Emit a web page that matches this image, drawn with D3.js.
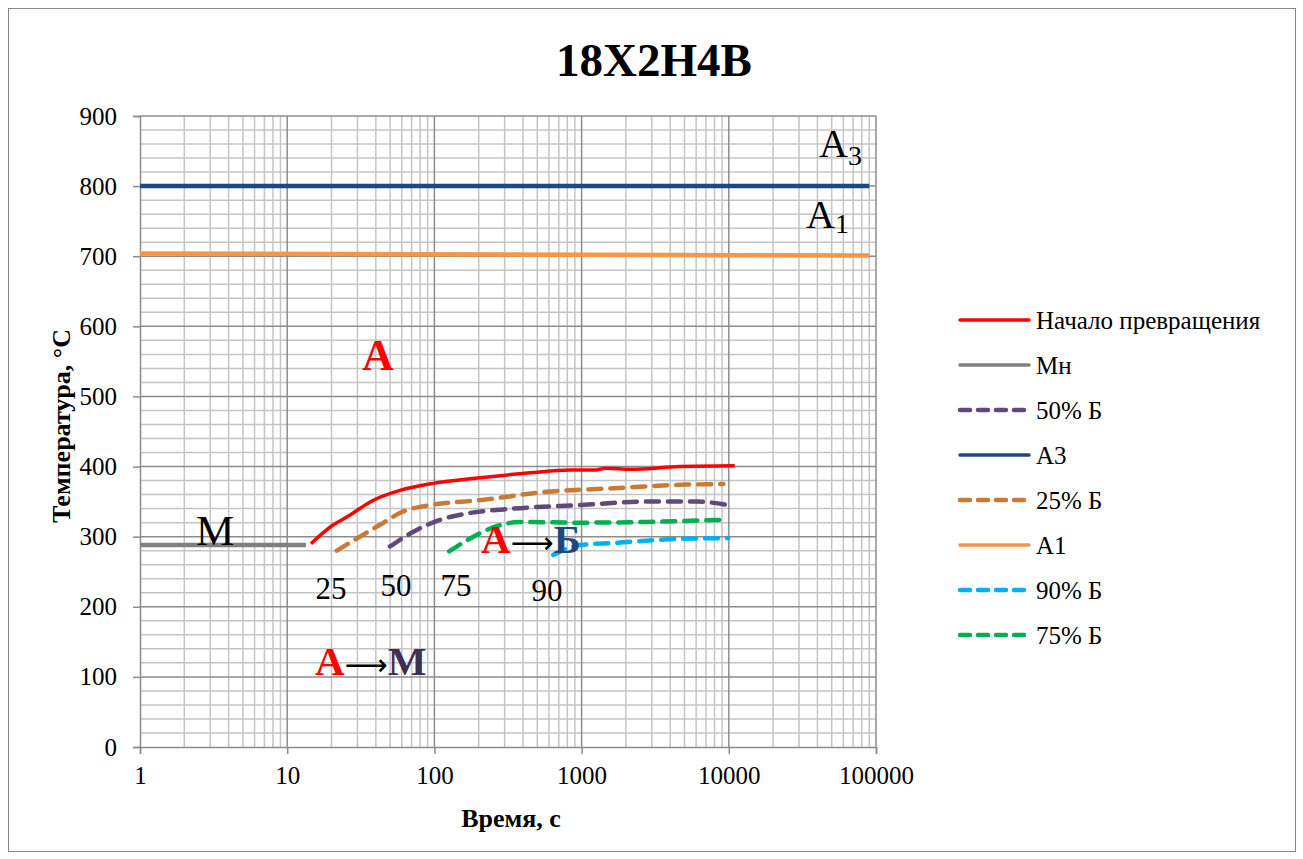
<!DOCTYPE html>
<html><head><meta charset="utf-8">
<script src="https://cdn.jsdelivr.net/npm/d3@7"></script>
<style>body{margin:0;background:#fff}svg, svg text{font-family:"Liberation Serif","Times New Roman","DejaVu Serif",serif}</style>
</head><body><svg id="c" width="1303" height="859"></svg>
<script>
const xTicks = [1, 10, 100, 1000, 10000, 100000];
const yTicks = [0, 100, 200, 300, 400, 500, 600, 700, 800, 900];

const startT = [14.5, 20.6, 25.4, 38.5, 58.4, 98, 204, 446, 834, 1200, 1480, 2140, 4680, 10970];
const startV = [290, 317, 328, 352, 366, 376, 384, 391, 395, 395, 397.5, 396, 400, 401];
const mnT = [1, 13.4];
const mnV = [288, 288];
const b50T = [49.9, 72, 109, 166, 344, 975, 2760, 6050, 10500];
const b50V = [286, 307, 324, 333, 340, 345, 350, 350, 344];
const a3T = [1, 90000];
const a3V = [800, 800];
const b25T = [21.7, 31.2, 42.7, 61.5, 93.4, 204, 580, 1640, 4680, 9180];
const b25V = [280, 300, 317, 336, 345, 352, 364, 369, 374, 375];
const a1T = [1, 90000];
const a1V = [704, 701];
const b90T = [641, 975, 1640, 4680, 9900];
const b90V = [274, 288, 291, 297, 298];
const b75T = [126, 184, 265, 380, 975, 2760, 8900];
const b75V = [279, 300, 315, 321, 320, 321, 324];

const series = [
  {name: "Начало превращения", t: startT, v: startV, color: "#ff0000", dash: null, w: 3.5},
  {name: "Мн", t: mnT, v: mnV, color: "#808080", dash: null, w: 4.5},
  {name: "50% Б", t: b50T, v: b50V, color: "#604a7b", dash: "13,9", w: 4.5},
  {name: "A3", t: a3T, v: a3V, color: "#1f497d", dash: null, w: 4.5},
  {name: "25% Б", t: b25T, v: b25V, color: "#c97a35", dash: "13,9", w: 4.5},
  {name: "A1", t: a1T, v: a1V, color: "#f79646", dash: null, w: 4.5},
  {name: "90% Б", t: b90T, v: b90V, color: "#00b0f0", dash: "13,9", w: 4.5},
  {name: "75% Б", t: b75T, v: b75V, color: "#00b050", dash: "13,9", w: 4.5}
];

const FF = '"Liberation Serif","Times New Roman","DejaVu Serif",serif';
const svg = d3.select("#c").attr("font-family", FF);
svg.append("rect").attr("x", 8.5).attr("y", 8.5).attr("width", 1287).attr("height", 843)
  .attr("fill", "#fff").attr("stroke", "#888").attr("stroke-width", 1);

const L = 140, R = 876, T = 116, B = 747;
const x = d3.scaleLog().domain([1, 100000]).range([L, R]);
const y = d3.scaleLinear().domain([0, 900]).range([B, T]);

// grid
const g = svg.append("g");
const minorX = [];
for (let d = 1; d < 100000; d *= 10) for (let k = 2; k <= 9; k++) minorX.push(d * k);
g.selectAll(".mx").data(minorX).enter().append("line")
  .attr("x1", d => x(d)).attr("x2", d => x(d)).attr("y1", T).attr("y2", B)
  .attr("stroke", "#c4c4c4").attr("stroke-width", 1.5);
const minorY = d3.range(20, 900, 20).filter(v => v % 100 !== 0);
g.selectAll(".my").data(minorY).enter().append("line")
  .attr("x1", L).attr("x2", R).attr("y1", d => y(d)).attr("y2", d => y(d))
  .attr("stroke", "#c4c4c4").attr("stroke-width", 1.5);
g.selectAll(".My").data(yTicks.slice(1)).enter().append("line")
  .attr("x1", L).attr("x2", R).attr("y1", d => y(d)).attr("y2", d => y(d))
  .attr("stroke", "#8c8c8c").attr("stroke-width", 1.5);
g.selectAll(".Mx").data(xTicks.slice(1)).enter().append("line")
  .attr("x1", d => x(d)).attr("x2", d => x(d)).attr("y1", T).attr("y2", B)
  .attr("stroke", "#8c8c8c").attr("stroke-width", 1.5);

// axes
const yAxis = d3.axisLeft(y).tickValues(yTicks).tickSize(7).tickPadding(16);
const ya = svg.append("g").attr("transform", `translate(${L},0)`).call(yAxis).attr("font-family", FF);
ya.select(".domain").attr("stroke", "#8c8c8c").attr("stroke-width", 1.5);
ya.selectAll(".tick line").attr("stroke", "#8c8c8c").attr("stroke-width", 1.5);
ya.selectAll("text").attr("font-size", 25).attr("fill", "#000");

const xAxis = d3.axisBottom(x).tickValues(xTicks).tickFormat(d3.format("d")).tickSize(7).tickPadding(12);
const xa = svg.append("g").attr("transform", `translate(0,${B})`).call(xAxis).attr("font-family", FF);
xa.select(".domain").attr("stroke", "#8c8c8c").attr("stroke-width", 1.5);
xa.selectAll(".tick line").attr("stroke", "#8c8c8c").attr("stroke-width", 1.5);
xa.selectAll("text").attr("font-size", 25).attr("fill", "#000");

// lines
const line = d3.line().x(d => x(d[0])).y(d => y(d[1])).curve(d3.curveMonotoneX);
series.forEach(s => {
  svg.append("path").datum(s.t.map((t, i) => [t, s.v[i]]))
    .attr("d", line).attr("fill", "none").attr("stroke", s.color)
    .attr("stroke-width", s.w).attr("stroke-dasharray", s.dash)
    .attr("stroke-linecap", s.dash ? "round" : "butt");
});

// legend
const lg = svg.append("g");
series.forEach((s, i) => {
  const yy = 320 + i * 45;
  lg.append("line").attr("x1", 960).attr("x2", 1029).attr("y1", yy).attr("y2", yy)
    .attr("stroke", s.color).attr("stroke-width", s.dash ? 4.5 : 3.5)
    .attr("stroke-dasharray", s.dash ? "10,8" : null).attr("stroke-linecap", "round");
  lg.append("text").attr("x", 1036).attr("y", yy + 9).attr("font-size", 25).text(s.name);
});

// titles
svg.append("text").attr("x", 654).attr("y", 76).attr("text-anchor", "middle")
  .attr("font-size", 47).attr("font-weight", "bold").text("18X2H4B");
svg.append("text").attr("x", 511).attr("y", 827).attr("text-anchor", "middle")
  .attr("font-size", 26).attr("font-weight", "bold").text("Время, с");
svg.append("text").attr("transform", "translate(70,426) rotate(-90)").attr("text-anchor", "middle")
  .attr("font-size", 26).attr("font-weight", "bold").text("Температура, °С");

// annotations
const ann = svg.append("g");
ann.append("text").attr("x", 378).attr("y", 370).attr("text-anchor", "middle")
  .attr("font-size", 44).attr("font-weight", "bold").attr("fill", "#ff0000").text("A");
ann.append("text").attr("x", 215).attr("y", 545).attr("text-anchor", "middle")
  .attr("font-size", 43).text("M");
const a3 = ann.append("text").attr("x", 819).attr("y", 157).attr("font-size", 40);
a3.append("tspan").text("A");
a3.append("tspan").attr("font-size", 28).attr("dy", 8).text("3");
const a1 = ann.append("text").attr("x", 806).attr("y", 228).attr("font-size", 40);
a1.append("tspan").text("A");
a1.append("tspan").attr("font-size", 28).attr("dy", 5).text("1");
[["25", 331, 599], ["50", 396, 596], ["75", 456, 596], ["90", 547, 601]].forEach(d => {
  ann.append("text").attr("x", d[1]).attr("y", d[2]).attr("text-anchor", "middle")
    .attr("font-size", 31).text(d[0]);
});
const ab = ann.append("text").attr("x", 481).attr("y", 553).attr("font-size", 41).attr("font-weight", "bold");
ab.append("tspan").attr("fill", "#ff0000").text("A");
ab.append("tspan").attr("fill", "#000").attr("font-weight", "normal").attr("font-size", 30).attr("font-family", "DejaVu Sans").text("⟶");
ab.append("tspan").attr("fill", "#1f497d").text("Б");
const am = ann.append("text").attr("x", 315).attr("y", 675).attr("font-size", 41).attr("font-weight", "bold");
am.append("tspan").attr("fill", "#ff0000").text("A");
am.append("tspan").attr("fill", "#000").attr("font-weight", "normal").attr("font-size", 30).attr("font-family", "DejaVu Sans").text("⟶");
am.append("tspan").attr("fill", "#403152").text("M");
</script></body></html>
